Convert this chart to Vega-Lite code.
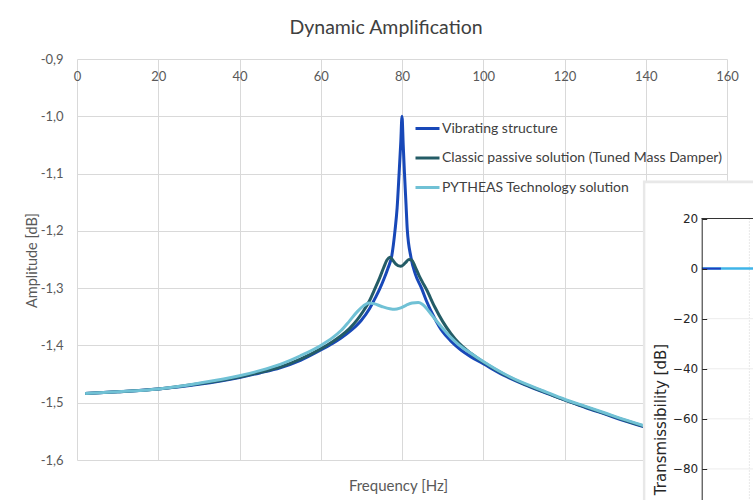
{
  "$schema": "https://vega.github.io/schema/vega-lite/v6.json",
  "width": 650,
  "height": 401,
  "autosize": {"type": "none"},
  "padding": {"left": 77, "top": 59, "right": 26, "bottom": 40},
  "background": "white",
  "config": {
    "view": {"stroke": null},
    "font": "Lato"
  },
  "title": {"text": "Dynamic Amplification", "fontSize": 19.5, "font": "Lato", "fontWeight": "normal", "color": "#404040", "anchor": "middle", "dx": -16, "offset": 15},
  "datasets": {
    "amp": [
      {"s": "Vibrating structure", "f": 2, "a": -1.484},
      {"s": "Vibrating structure", "f": 10, "a": -1.481},
      {"s": "Vibrating structure", "f": 20, "a": -1.476},
      {"s": "Vibrating structure", "f": 30, "a": -1.468},
      {"s": "Vibrating structure", "f": 40, "a": -1.456},
      {"s": "Vibrating structure", "f": 45, "a": -1.448},
      {"s": "Vibrating structure", "f": 50, "a": -1.439},
      {"s": "Vibrating structure", "f": 55, "a": -1.426},
      {"s": "Vibrating structure", "f": 60, "a": -1.408},
      {"s": "Vibrating structure", "f": 63, "a": -1.396},
      {"s": "Vibrating structure", "f": 65, "a": -1.387},
      {"s": "Vibrating structure", "f": 67.6, "a": -1.373},
      {"s": "Vibrating structure", "f": 70, "a": -1.356},
      {"s": "Vibrating structure", "f": 72, "a": -1.336},
      {"s": "Vibrating structure", "f": 73.5, "a": -1.316},
      {"s": "Vibrating structure", "f": 74.6, "a": -1.3},
      {"s": "Vibrating structure", "f": 75.5, "a": -1.285},
      {"s": "Vibrating structure", "f": 76.5, "a": -1.266},
      {"s": "Vibrating structure", "f": 77.5, "a": -1.243},
      {"s": "Vibrating structure", "f": 78.3, "a": -1.198},
      {"s": "Vibrating structure", "f": 78.8, "a": -1.16},
      {"s": "Vibrating structure", "f": 79.3, "a": -1.098},
      {"s": "Vibrating structure", "f": 79.7, "a": -1.045},
      {"s": "Vibrating structure", "f": 80, "a": -1.0},
      {"s": "Vibrating structure", "f": 80.3, "a": -1.05},
      {"s": "Vibrating structure", "f": 80.6, "a": -1.098},
      {"s": "Vibrating structure", "f": 81.0, "a": -1.155},
      {"s": "Vibrating structure", "f": 81.3, "a": -1.198},
      {"s": "Vibrating structure", "f": 82.2, "a": -1.246},
      {"s": "Vibrating structure", "f": 83.3, "a": -1.276},
      {"s": "Vibrating structure", "f": 84.8, "a": -1.3},
      {"s": "Vibrating structure", "f": 86, "a": -1.322},
      {"s": "Vibrating structure", "f": 88, "a": -1.352},
      {"s": "Vibrating structure", "f": 90, "a": -1.376},
      {"s": "Vibrating structure", "f": 92, "a": -1.392},
      {"s": "Vibrating structure", "f": 94, "a": -1.405},
      {"s": "Vibrating structure", "f": 97, "a": -1.42},
      {"s": "Vibrating structure", "f": 100, "a": -1.432},
      {"s": "Vibrating structure", "f": 105, "a": -1.452},
      {"s": "Vibrating structure", "f": 110, "a": -1.468},
      {"s": "Vibrating structure", "f": 115, "a": -1.482},
      {"s": "Vibrating structure", "f": 120, "a": -1.495},
      {"s": "Vibrating structure", "f": 125, "a": -1.508},
      {"s": "Vibrating structure", "f": 130, "a": -1.52},
      {"s": "Vibrating structure", "f": 135, "a": -1.532},
      {"s": "Vibrating structure", "f": 140, "a": -1.543},
      {"s": "Vibrating structure", "f": 145, "a": -1.553},
      {"s": "Vibrating structure", "f": 150, "a": -1.562},
      {"s": "Vibrating structure", "f": 155, "a": -1.571},
      {"s": "Vibrating structure", "f": 160, "a": -1.579},
      {"s": "Classic passive solution (Tuned Mass Damper)", "f": 2, "a": -1.484},
      {"s": "Classic passive solution (Tuned Mass Damper)", "f": 10, "a": -1.481},
      {"s": "Classic passive solution (Tuned Mass Damper)", "f": 20, "a": -1.476},
      {"s": "Classic passive solution (Tuned Mass Damper)", "f": 30, "a": -1.467},
      {"s": "Classic passive solution (Tuned Mass Damper)", "f": 40, "a": -1.455},
      {"s": "Classic passive solution (Tuned Mass Damper)", "f": 45, "a": -1.447},
      {"s": "Classic passive solution (Tuned Mass Damper)", "f": 50, "a": -1.438},
      {"s": "Classic passive solution (Tuned Mass Damper)", "f": 55, "a": -1.424},
      {"s": "Classic passive solution (Tuned Mass Damper)", "f": 60, "a": -1.406},
      {"s": "Classic passive solution (Tuned Mass Damper)", "f": 63, "a": -1.393},
      {"s": "Classic passive solution (Tuned Mass Damper)", "f": 65, "a": -1.383},
      {"s": "Classic passive solution (Tuned Mass Damper)", "f": 67, "a": -1.371},
      {"s": "Classic passive solution (Tuned Mass Damper)", "f": 69, "a": -1.355},
      {"s": "Classic passive solution (Tuned Mass Damper)", "f": 70.5, "a": -1.34},
      {"s": "Classic passive solution (Tuned Mass Damper)", "f": 72, "a": -1.322},
      {"s": "Classic passive solution (Tuned Mass Damper)", "f": 73.4, "a": -1.3},
      {"s": "Classic passive solution (Tuned Mass Damper)", "f": 74.5, "a": -1.282},
      {"s": "Classic passive solution (Tuned Mass Damper)", "f": 75.5, "a": -1.264},
      {"s": "Classic passive solution (Tuned Mass Damper)", "f": 76.3, "a": -1.251},
      {"s": "Classic passive solution (Tuned Mass Damper)", "f": 77, "a": -1.246},
      {"s": "Classic passive solution (Tuned Mass Damper)", "f": 77.7, "a": -1.251},
      {"s": "Classic passive solution (Tuned Mass Damper)", "f": 78.5, "a": -1.258},
      {"s": "Classic passive solution (Tuned Mass Damper)", "f": 79.7, "a": -1.262},
      {"s": "Classic passive solution (Tuned Mass Damper)", "f": 80.8, "a": -1.256},
      {"s": "Classic passive solution (Tuned Mass Damper)", "f": 81.7, "a": -1.25},
      {"s": "Classic passive solution (Tuned Mass Damper)", "f": 82.4, "a": -1.251},
      {"s": "Classic passive solution (Tuned Mass Damper)", "f": 83.2, "a": -1.262},
      {"s": "Classic passive solution (Tuned Mass Damper)", "f": 84.2, "a": -1.278},
      {"s": "Classic passive solution (Tuned Mass Damper)", "f": 85, "a": -1.289},
      {"s": "Classic passive solution (Tuned Mass Damper)", "f": 86, "a": -1.302},
      {"s": "Classic passive solution (Tuned Mass Damper)", "f": 88, "a": -1.332},
      {"s": "Classic passive solution (Tuned Mass Damper)", "f": 90, "a": -1.358},
      {"s": "Classic passive solution (Tuned Mass Damper)", "f": 92, "a": -1.379},
      {"s": "Classic passive solution (Tuned Mass Damper)", "f": 94, "a": -1.396},
      {"s": "Classic passive solution (Tuned Mass Damper)", "f": 97, "a": -1.414},
      {"s": "Classic passive solution (Tuned Mass Damper)", "f": 100, "a": -1.429},
      {"s": "Classic passive solution (Tuned Mass Damper)", "f": 105, "a": -1.45},
      {"s": "Classic passive solution (Tuned Mass Damper)", "f": 110, "a": -1.467},
      {"s": "Classic passive solution (Tuned Mass Damper)", "f": 115, "a": -1.481},
      {"s": "Classic passive solution (Tuned Mass Damper)", "f": 120, "a": -1.495},
      {"s": "Classic passive solution (Tuned Mass Damper)", "f": 125, "a": -1.507},
      {"s": "Classic passive solution (Tuned Mass Damper)", "f": 130, "a": -1.519},
      {"s": "Classic passive solution (Tuned Mass Damper)", "f": 135, "a": -1.531},
      {"s": "Classic passive solution (Tuned Mass Damper)", "f": 140, "a": -1.542},
      {"s": "Classic passive solution (Tuned Mass Damper)", "f": 145, "a": -1.552},
      {"s": "Classic passive solution (Tuned Mass Damper)", "f": 150, "a": -1.561},
      {"s": "Classic passive solution (Tuned Mass Damper)", "f": 155, "a": -1.57},
      {"s": "Classic passive solution (Tuned Mass Damper)", "f": 160, "a": -1.578},
      {"s": "PYTHEAS Technology solution", "f": 2, "a": -1.484},
      {"s": "PYTHEAS Technology solution", "f": 10, "a": -1.481},
      {"s": "PYTHEAS Technology solution", "f": 20, "a": -1.476},
      {"s": "PYTHEAS Technology solution", "f": 30, "a": -1.466},
      {"s": "PYTHEAS Technology solution", "f": 40, "a": -1.453},
      {"s": "PYTHEAS Technology solution", "f": 45, "a": -1.444},
      {"s": "PYTHEAS Technology solution", "f": 50, "a": -1.433},
      {"s": "PYTHEAS Technology solution", "f": 55, "a": -1.418},
      {"s": "PYTHEAS Technology solution", "f": 60, "a": -1.4},
      {"s": "PYTHEAS Technology solution", "f": 63, "a": -1.386},
      {"s": "PYTHEAS Technology solution", "f": 65, "a": -1.374},
      {"s": "PYTHEAS Technology solution", "f": 67, "a": -1.358},
      {"s": "PYTHEAS Technology solution", "f": 69, "a": -1.341},
      {"s": "PYTHEAS Technology solution", "f": 70.5, "a": -1.331},
      {"s": "PYTHEAS Technology solution", "f": 71.8, "a": -1.326},
      {"s": "PYTHEAS Technology solution", "f": 73, "a": -1.327},
      {"s": "PYTHEAS Technology solution", "f": 75, "a": -1.332},
      {"s": "PYTHEAS Technology solution", "f": 77, "a": -1.336},
      {"s": "PYTHEAS Technology solution", "f": 78.2, "a": -1.337},
      {"s": "PYTHEAS Technology solution", "f": 79.5, "a": -1.335},
      {"s": "PYTHEAS Technology solution", "f": 81, "a": -1.33},
      {"s": "PYTHEAS Technology solution", "f": 82.5, "a": -1.326},
      {"s": "PYTHEAS Technology solution", "f": 84, "a": -1.325},
      {"s": "PYTHEAS Technology solution", "f": 85, "a": -1.328},
      {"s": "PYTHEAS Technology solution", "f": 86, "a": -1.335},
      {"s": "PYTHEAS Technology solution", "f": 87, "a": -1.344},
      {"s": "PYTHEAS Technology solution", "f": 88, "a": -1.353},
      {"s": "PYTHEAS Technology solution", "f": 90, "a": -1.37},
      {"s": "PYTHEAS Technology solution", "f": 92, "a": -1.386},
      {"s": "PYTHEAS Technology solution", "f": 94, "a": -1.399},
      {"s": "PYTHEAS Technology solution", "f": 97, "a": -1.414},
      {"s": "PYTHEAS Technology solution", "f": 100, "a": -1.428},
      {"s": "PYTHEAS Technology solution", "f": 105, "a": -1.449},
      {"s": "PYTHEAS Technology solution", "f": 110, "a": -1.466},
      {"s": "PYTHEAS Technology solution", "f": 115, "a": -1.48},
      {"s": "PYTHEAS Technology solution", "f": 120, "a": -1.494},
      {"s": "PYTHEAS Technology solution", "f": 125, "a": -1.506},
      {"s": "PYTHEAS Technology solution", "f": 130, "a": -1.518},
      {"s": "PYTHEAS Technology solution", "f": 135, "a": -1.53},
      {"s": "PYTHEAS Technology solution", "f": 140, "a": -1.541},
      {"s": "PYTHEAS Technology solution", "f": 145, "a": -1.551},
      {"s": "PYTHEAS Technology solution", "f": 150, "a": -1.56},
      {"s": "PYTHEAS Technology solution", "f": 155, "a": -1.569},
      {"s": "PYTHEAS Technology solution", "f": 160, "a": -1.577}
    ],
    "tgrid": [{"t": -20}, {"t": -40}, {"t": -60}, {"t": -80}]
  },
  "layer": [
    {
      "data": {"name": "amp"},
      "mark": {"type": "line", "strokeWidth": 3, "interpolate": "monotone"},
      "encoding": {
        "x": {
          "field": "f", "type": "quantitative",
          "scale": {"domain": [0, 160], "nice": false, "zero": false},
          "axis": {
            "orient": "bottom", "offset": -401,
            "values": [0, 20, 40, 60, 80, 100, 120, 140, 160],
            "grid": true, "gridColor": "#d9d9d9", "gridWidth": 1,
            "ticks": false, "domain": false,
            "labelPadding": 11, "labelFont": "Lato", "labelFontSize": 13, "labelColor": "#595959", "labelFlush": false,
            "title": "Frequency [Hz]", "titleFont": "Lato", "titleFontSize": 15, "titleFontWeight": "normal", "titleColor": "#595959",
            "titleX": 321, "titleY": 426, "titleAlign": "center", "titleBaseline": "middle"
          }
        },
        "y": {
          "field": "a", "type": "quantitative",
          "scale": {"domain": [-1.6, -0.9], "nice": false, "zero": false},
          "axis": {
            "values": [-1.6, -1.5, -1.4, -1.3, -1.2, -1.1, -1.0, -0.9],
            "labelExpr": "replace(replace(format(datum.value, '.1f'), '.', ','), '\u2212', '-')",
            "grid": true, "gridColor": "#d9d9d9", "gridWidth": 1,
            "ticks": false, "domain": false,
            "labelPadding": 14, "labelFont": "Lato", "labelFontSize": 13, "labelColor": "#595959",
            "title": "Amplitude [dB]", "titleFont": "Lato", "titleFontSize": 14.5, "titleFontWeight": "normal", "titleColor": "#595959",
            "titleX": -45, "titleY": 201, "titleAlign": "center", "titleBaseline": "middle", "titleAngle": -90
          }
        },
        "color": {
          "field": "s", "type": "nominal",
          "scale": {
            "domain": ["Vibrating structure", "Classic passive solution (Tuned Mass Damper)", "PYTHEAS Technology solution"],
            "range": ["#1848b8", "#245c66", "#70c1d5"]
          },
          "legend": {
            "orient": "none", "legendX": 337, "legendY": 56, "title": null, "padding": 0,
            "symbolType": "stroke", "symbolSize": 576, "symbolStrokeWidth": 3,
            "labelFont": "Lato", "labelFontSize": 14, "labelColor": "#404040", "labelOffset": 1, "rowPadding": 8.5, "labelLimit": 400
          }
        }
      }
    },
    {
      "data": {"values": [{}]},
      "mark": {"type": "rect", "clip": false, "fill": "#e8e8e8"},
      "encoding": {
        "x": {"datum": 139.3, "type": "quantitative", "scale": {"domain": [0, 160], "nice": false, "zero": false}},
        "x2": {"datum": 180},
        "y": {"datum": -1.112, "type": "quantitative", "scale": {"domain": [-1.6, -0.9], "nice": false, "zero": false}, "axis": null},
        "y2": {"datum": -1.9}
      }
    },
    {
      "data": {"values": [{}]},
      "mark": {"type": "rect", "clip": false, "fill": "#ffffff"},
      "encoding": {
        "x": {"datum": 139.9, "type": "quantitative", "scale": {"domain": [0, 160], "nice": false, "zero": false}},
        "x2": {"datum": 180},
        "y": {"datum": -1.117, "type": "quantitative", "scale": {"domain": [-1.6, -0.9], "nice": false, "zero": false}, "axis": null},
        "y2": {"datum": -1.9}
      }
    },
    {
      "data": {"values": [{}]},
      "mark": {"type": "rule", "clip": false, "color": "#d0d0d0", "strokeWidth": 1, "strokeDash": [1, 2]},
      "encoding": {
        "x": {"datum": 165.5, "type": "quantitative", "scale": {"domain": [0, 160], "nice": false, "zero": false}},
        "y": {
          "datum": 20, "type": "quantitative",
          "scale": {"domain": [-95, 20], "range": [447.5, 159.5], "nice": false, "zero": false},
          "axis": {
            "orient": "left", "offset": -624.7,
            "values": [20, 0, -20, -40, -60, -80],
            "grid": false, "domain": true, "domainColor": "#262626", "domainWidth": 1,
            "ticks": true, "tickSize": -5, "tickColor": "#262626",
            "labelPadding": 9, "labelFont": "DejaVu Sans", "labelFontSize": 12, "labelColor": "#262626",
            "title": "Transmissibility [dB]", "titleFont": "DejaVu Sans", "titleFontSize": 15, "titleFontWeight": "normal", "titleColor": "#262626",
            "titleX": -41.7, "titleY": 360, "titleAlign": "center", "titleBaseline": "middle", "titleAngle": -90,
            "zindex": 2
          }
        },
        "y2": {"datum": -95}
      }
    },
    {
      "data": {"name": "tgrid"},
      "mark": {"type": "rule", "clip": false, "color": "#ececec", "strokeWidth": 1},
      "encoding": {
        "x": {"datum": 154.9, "type": "quantitative", "scale": {"domain": [0, 160], "nice": false, "zero": false}},
        "x2": {"datum": 180},
        "y": {"field": "t", "type": "quantitative", "scale": {"domain": [-95, 20], "range": [447.5, 159.5], "nice": false, "zero": false}, "axis": null}
      }
    },
    {
      "data": {"values": [{}]},
      "mark": {"type": "rule", "clip": false, "color": "#333333", "strokeWidth": 1},
      "encoding": {
        "x": {"datum": 153.7, "type": "quantitative", "scale": {"domain": [0, 160], "nice": false, "zero": false}},
        "x2": {"datum": 180},
        "y": {"datum": 20, "type": "quantitative", "scale": {"domain": [-95, 20], "range": [447.5, 159.5], "nice": false, "zero": false}, "axis": null}
      }
    },
    {
      "data": {"values": [{}]},
      "mark": {"type": "rule", "clip": false, "color": "#3fb4e8", "strokeWidth": 2.5},
      "encoding": {
        "x": {"datum": 153.8, "type": "quantitative", "scale": {"domain": [0, 160], "nice": false, "zero": false}},
        "x2": {"datum": 180},
        "y": {"datum": 0, "type": "quantitative", "scale": {"domain": [-95, 20], "range": [447.5, 159.5], "nice": false, "zero": false}, "axis": null}
      }
    },
    {
      "data": {"values": [{}]},
      "mark": {"type": "rule", "clip": false, "color": "#1f3fbf", "strokeWidth": 2},
      "encoding": {
        "x": {"datum": 153.9, "type": "quantitative", "scale": {"domain": [0, 160], "nice": false, "zero": false}},
        "x2": {"datum": 158.5},
        "y": {"datum": 0, "type": "quantitative", "scale": {"domain": [-95, 20], "range": [447.5, 159.5], "nice": false, "zero": false}, "axis": null}
      }
    }
  ],
  "resolve": {"scale": {"y": "independent"}}
}
